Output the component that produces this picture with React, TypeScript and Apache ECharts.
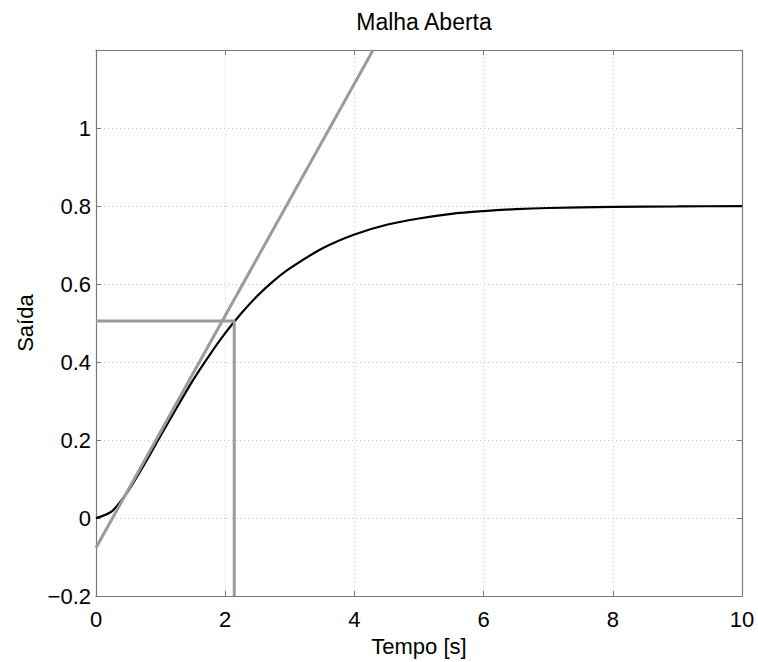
import React, { useEffect, useRef } from "react";
import * as echarts from "echarts";

// Black step-response curve
const tempo = [0, 0.25, 0.5, 0.75, 1, 1.25, 1.5, 1.75, 2, 2.25, 2.5, 2.75, 3, 3.5, 4, 4.5, 5, 5.5, 6, 6.5, 7, 8, 9, 10];
const saida = [0, 0.018, 0.07, 0.138, 0.211, 0.283, 0.353, 0.416, 0.474, 0.525, 0.57, 0.608, 0.64, 0.691, 0.727, 0.752, 0.768, 0.78, 0.787, 0.792, 0.795, 0.798, 0.799, 0.8];

// Tangent line (gray)
const tangenteT = [0, 4.29];
const tangenteY = [-0.076, 1.2];

// Marker lines (gray): horizontal then vertical
const marcaT = [0, 2.14, 2.14];
const marcaY = [0.505, 0.505, -0.2];

const xTicks = { min: 0, max: 10, interval: 2 };
const yTicks = { min: -0.2, max: 1.2, interval: 0.2 };

const FONT = "'Liberation Sans', Arial, Helvetica, sans-serif";
const AXIS_GRAY = "#7a7a7a";
const LINE_GRAY = "#9b9b9b";

function zip(a: number[], b: number[]) {
  return a.map((v, i) => [v, b[i]]);
}

function fmt(v: number) {
  const n = Number(v.toFixed(1));
  if (Math.abs(n - 1.2) < 1e-6) return "";
  return String(n).replace("-", "\u2212");
}

export default function App() {
  const ref = useRef<HTMLDivElement>(null);
  useEffect(() => {
    if (!ref.current) return;
    const chart = echarts.init(ref.current, undefined, { renderer: "svg" });
    const commonAxis = {
      axisLine: { show: true, onZero: false, lineStyle: { color: AXIS_GRAY, width: 1.2 } },
      axisTick: { show: true, inside: true, length: 5, lineStyle: { color: AXIS_GRAY } },
    };
    chart.setOption({
      animation: false,
      backgroundColor: "#ffffff",
      title: {
        text: "Malha Aberta",
        left: 419,
        textAlign: "center",
        top: 5,
        textStyle: { fontFamily: FONT, fontSize: 23, fontWeight: "normal", color: "#000" },
      },
      grid: { left: 96, right: 16, top: 50, bottom: 57, containLabel: false },
      xAxis: [
        {
          type: "value",
          position: "bottom",
          ...xTicks,
          ...commonAxis,
          splitLine: { show: true, lineStyle: { type: [1, 3], color: "#c8c8c8", width: 1 } },
          axisLabel: { fontFamily: FONT, fontSize: 22, color: "#000", margin: 12 },
          name: "Tempo [s]",
          nameLocation: "middle",
          nameGap: 31,
          nameTextStyle: { fontFamily: FONT, fontSize: 22, color: "#000" },
        },
        {
          type: "value",
          position: "top",
          ...xTicks,
          ...commonAxis,
          splitLine: { show: false },
          axisLabel: { show: false },
        },
      ],
      yAxis: [
        {
          type: "value",
          position: "left",
          ...yTicks,
          ...commonAxis,
          splitLine: { show: true, lineStyle: { type: [1, 3], color: "#c8c8c8", width: 1 } },
          axisLabel: { fontFamily: FONT, fontSize: 22, color: "#000", margin: 5, formatter: fmt },
          name: "Saída",
          nameLocation: "middle",
          nameGap: 60,
          nameTextStyle: { fontFamily: FONT, fontSize: 22, color: "#000" },
        },
        {
          type: "value",
          position: "right",
          ...yTicks,
          ...commonAxis,
          splitLine: { show: false },
          axisLabel: { show: false },
        },
      ],
      series: [
        {
          type: "line",
          xAxisIndex: 0,
          yAxisIndex: 0,
          data: zip(tempo, saida),
          smooth: 0.3,
          showSymbol: false,
          lineStyle: { color: "#000", width: 2.2 },
        },
        {
          type: "line",
          xAxisIndex: 0,
          yAxisIndex: 0,
          data: zip(tangenteT, tangenteY),
          showSymbol: false,
          lineStyle: { color: LINE_GRAY, width: 3 },
        },
        {
          type: "line",
          xAxisIndex: 0,
          yAxisIndex: 0,
          data: zip(marcaT, marcaY),
          showSymbol: false,
          lineStyle: { color: LINE_GRAY, width: 3 },
        },
      ],
    });
    return () => chart.dispose();
  }, []);
  return (
    <div
      ref={ref}
      style={{ position: "fixed", left: 0, top: 0, width: 758, height: 662, background: "#fff" }}
    />
  );
}
